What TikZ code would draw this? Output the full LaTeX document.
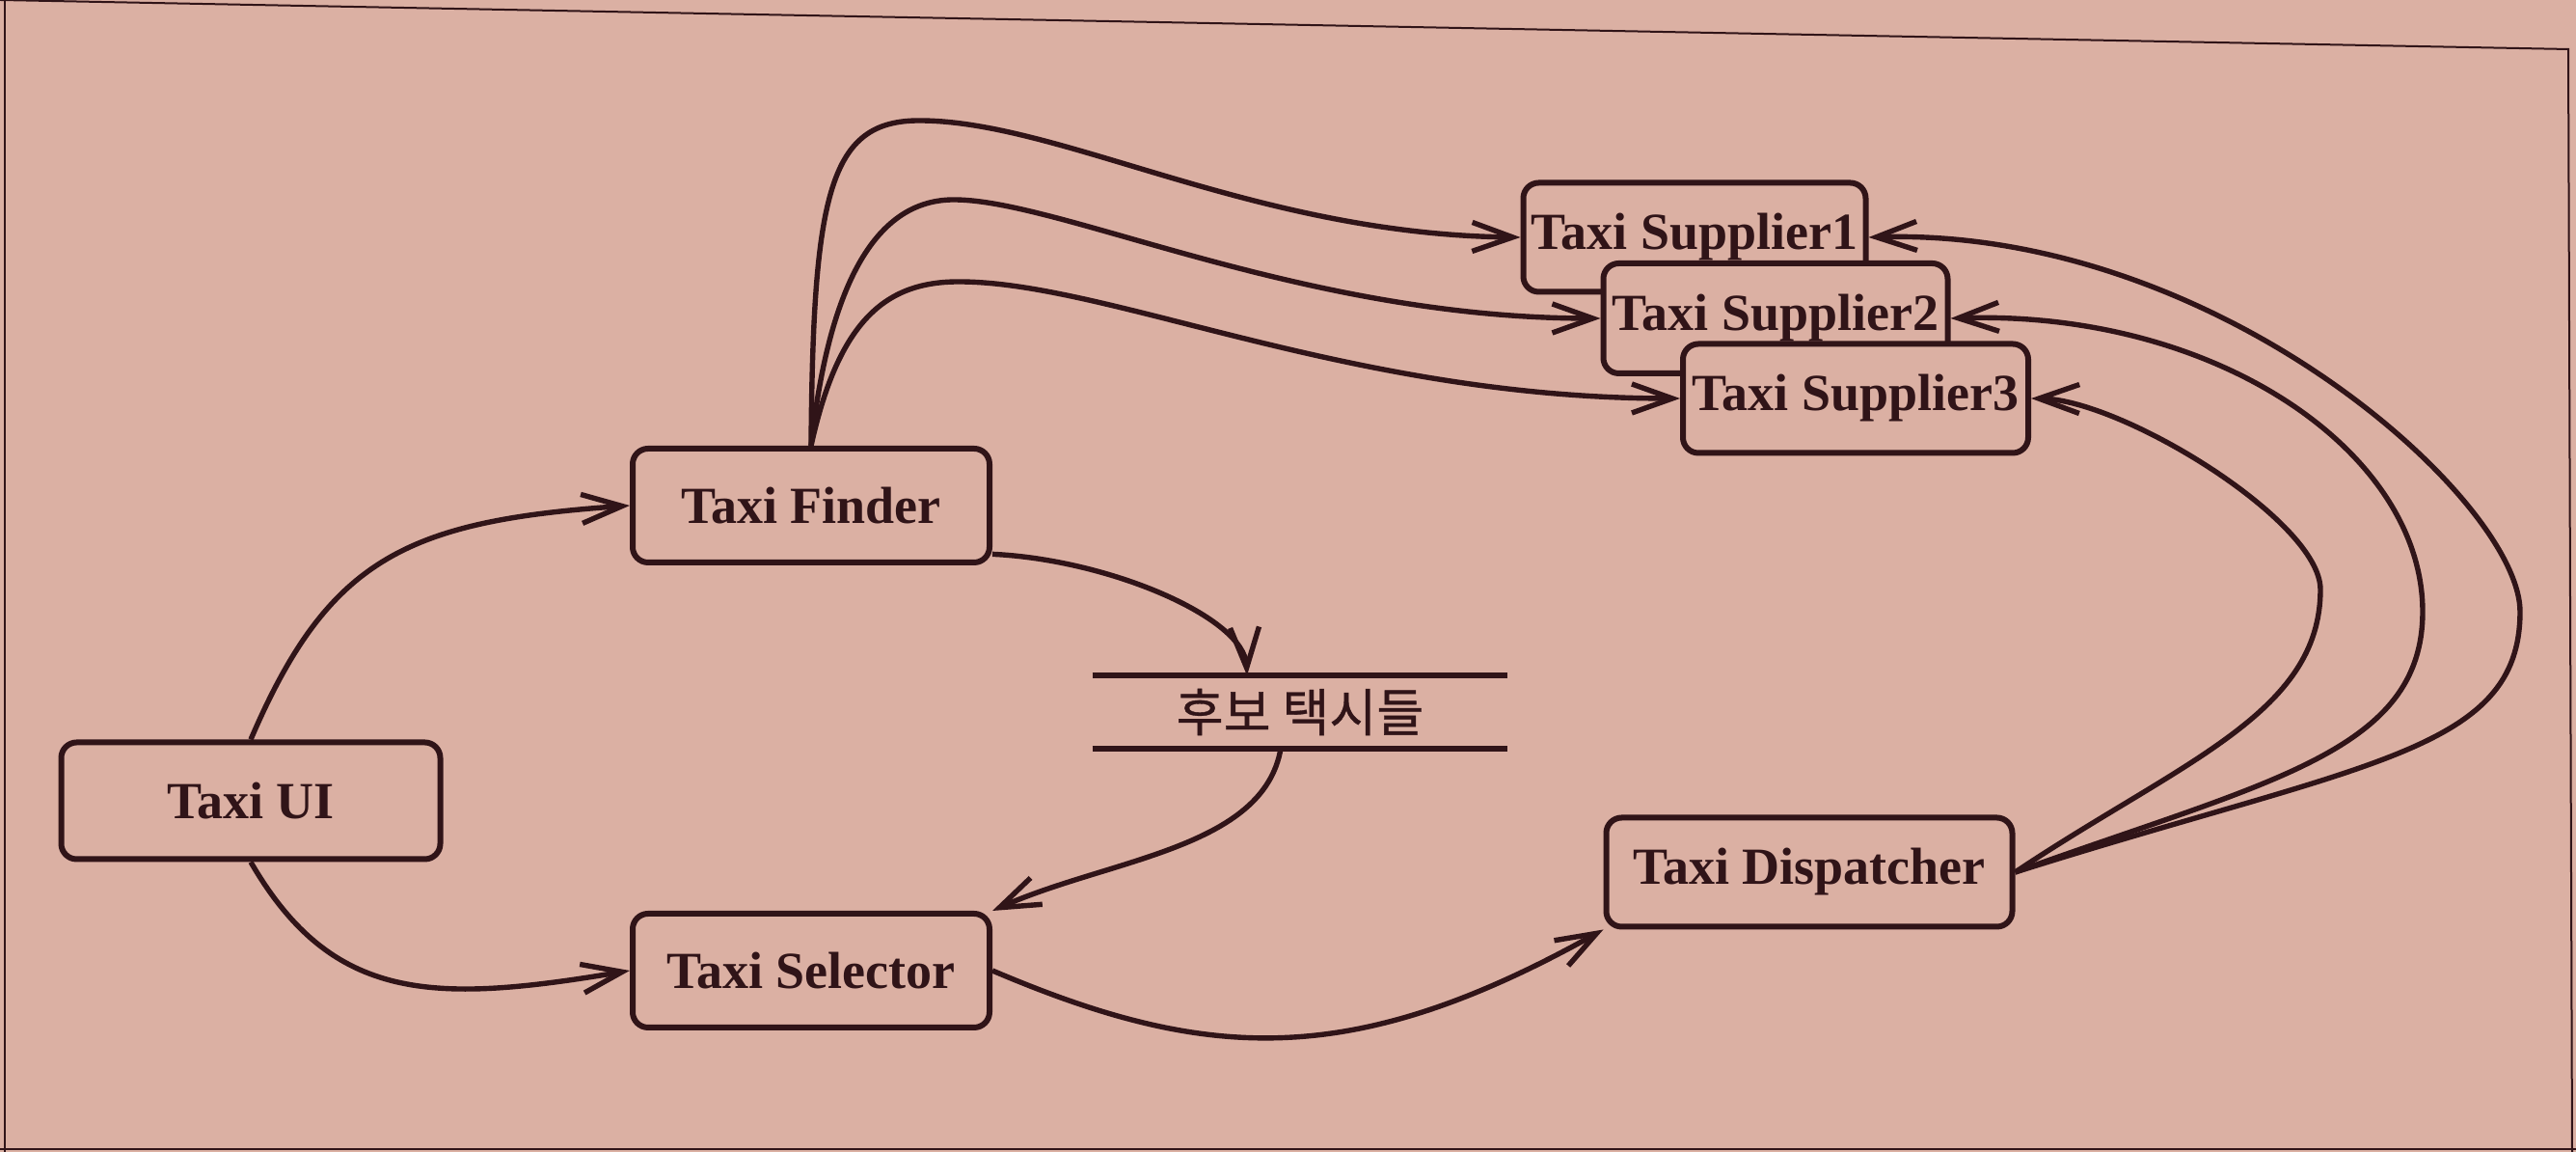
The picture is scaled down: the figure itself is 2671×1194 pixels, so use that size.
\documentclass[tikz,border=0pt]{standalone}
\usepackage{fontspec}
\setmainfont{Liberation Serif}
\newfontfamily\krfont[RawFeature={embolden=0.7}]{Noto Sans CJK KR}
\usetikzlibrary{arrows.meta}
\definecolor{paper}{RGB}{219,176,163}
\definecolor{ink}{RGB}{48,20,24}

\begin{document}
\begin{tikzpicture}[x=0.25pt,y=0.25pt,yscale=-1,xscale=1,
    box/.style={draw=ink,line width=1.5pt,rounded corners=4pt,fill=paper,text=ink,inner sep=1pt,
        font=\bfseries\fontsize{13.5}{16}\selectfont},
    flow/.style={draw=ink,line width=1.35pt,-{Straight Barb[length=10.5pt,width=7.5pt]}},
    store/.style={draw=ink,line width=1.6pt},
    frame/.style={draw=ink,line width=0.5pt}]
        %paper and page frame
        \useasboundingbox (0,0) rectangle (2671,1194);
        \fill[paper] (0,0) rectangle (2671,1194);
        \draw[frame] (0,0) -- (2663,51) -- (2667,1194);
        \draw[frame] (5,0) -- (5,1194);
        \draw[frame] (0,1191) -- (2671,1191);

        % Text Node
        \node[box,minimum width=98.25pt,minimum height=30.25pt] (ui) at (260,830) {Taxi UI};
        % Text Node
        \node[box,minimum width=92.5pt,minimum height=29.5pt] (finder) at (841,524) {Taxi Finder};
        % Text Node
        \node[box,minimum width=92.5pt,minimum height=29.5pt] (selector) at (841,1006) {Taxi Selector};
        % Text Node
        \node[box,minimum width=105.25pt,minimum height=28.25pt] (dispatcher) at (1876,904) {Taxi Dispatcher};
        % Text Node
        \node[box,minimum width=88.75pt,minimum height=28.25pt] (s1) at (1757,246) {Taxi Supplier1};
        \node[box,minimum width=89.25pt,minimum height=28.5pt] (s2) at (1841,330) {Taxi Supplier2};
        \node[box,minimum width=89.5pt,minimum height=28.25pt] (s3) at (1924,413) {Taxi Supplier3};
        % Text Node
        \node[minimum width=107.25pt,minimum height=18.5pt,inner sep=0pt,text=ink,
            font=\krfont\fontsize{13.3}{15}\selectfont] (cand) at (1348,738) {후보 택시들};
        \draw[store] (cand.north west) -- (cand.north east);
        \draw[store] (cand.south west) -- (cand.south east);

        %Curve Lines
        \draw[flow] (ui.north) .. controls (340,580) and (420,540) .. (finder.west);
        \draw[flow] (ui.south) .. controls (345,1040) and (450,1040) .. (selector.west);
        %Curve Lines
        \draw[flow] (finder.-15) .. controls (1150,580) and (1290,640) .. ([xshift=-13.75pt]cand.north);
        \draw[flow] ([xshift=-5pt]cand.south) .. controls (1310,880) and (1150,890) .. (selector.north east);
        \draw[flow] (selector.east) .. controls (1250,1100) and (1400,1110) .. (dispatcher.south west);
        %Curve Lines
        \draw[flow] (finder.north) .. controls (843,200) and (860,125) .. (953,125)
            .. controls (1100,125) and (1300,243) .. (s1.west);
        \draw[flow] (finder.north) .. controls (860,290) and (910,207) .. (989,207)
            .. controls (1100,207) and (1350,330) .. (s2.west);
        \draw[flow] (finder.north) .. controls (870,330) and (920,292) .. (994,292)
            .. controls (1150,292) and (1400,413) .. (s3.west);
        %Curve Lines
        \draw[flow] (dispatcher.east) .. controls (2450,790) and (2613,780) .. (2613,634)
            .. controls (2613,520) and (2300,235) .. (s1.east);
        \draw[flow] (dispatcher.east) .. controls (2350,810) and (2512,780) .. (2512,634)
            .. controls (2512,470) and (2300,321) .. (s2.east);
        \draw[flow] (dispatcher.east) .. controls (2260,790) and (2406,740) .. (2406,611)
            .. controls (2406,540) and (2200,414) .. (s3.east);

\end{tikzpicture}
\end{document}
